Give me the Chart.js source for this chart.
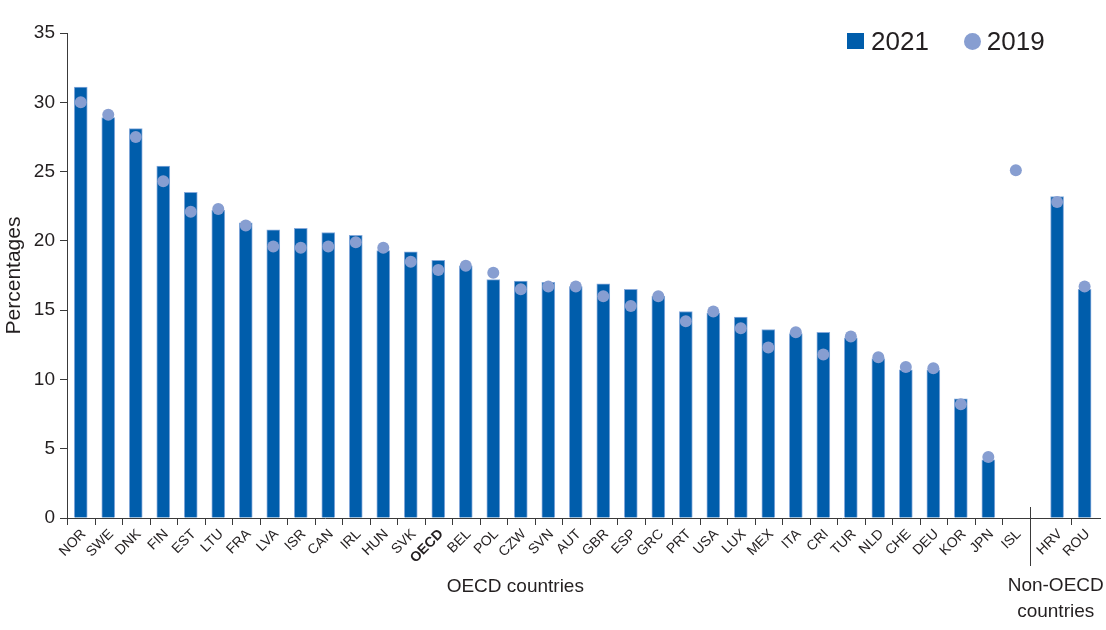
<!DOCTYPE html>
<html>
<head>
<meta charset="utf-8">
<script src="https://cdn.jsdelivr.net/npm/chart.js@4"></script>
<style>
  body { margin: 0; background: #fff; }
  #wrap { position: relative; width: 1106px; height: 630px; }
  #legend {
    position: absolute; left: 847px; top: 28px; height: 26px;
    display: flex; align-items: center;
    font-family: 'Liberation Sans', Arial, sans-serif; font-size: 26px; color: #231f20;
  }
  #legend .sq { width: 17px; height: 16px; background: #005dab; margin-right: 7px; }
  #legend .dot { width: 17px; height: 17px; border-radius: 50%; background: #879ed1; margin: 0 6px 0 35px; }
</style>
</head>
<body>
<div id="wrap">
  <canvas id="chart"></canvas>
  <div id="legend"><span class="sq"></span><span>2021</span><span class="dot"></span><span>2019</span></div>
</div>
<script>
const oecdCountries = ['NOR', 'SWE', 'DNK', 'FIN', 'EST', 'LTU', 'FRA', 'LVA', 'ISR', 'CAN', 'IRL', 'HUN', 'SVK', 'OECD',
    'BEL', 'POL', 'CZW', 'SVN', 'AUT', 'GBR', 'ESP', 'GRC', 'PRT', 'USA', 'LUX', 'MEX', 'ITA', 'CRI', 'TUR', 'NLD',
    'CHE', 'DEU', 'KOR', 'JPN', 'ISL'];
const nonOecdCountries = ['HRV', 'ROU'];

const values2021 = [31.1, 28.9, 28.1, 25.4, 23.5, 22.2, 21.3, 20.8, 20.9, 20.6, 20.4, 19.3, 19.2, 18.6,
    18.2, 17.2, 17.1, 17.0, 16.7, 16.9, 16.5, 16.0, 14.9, 14.8, 14.5, 13.6, 13.3, 13.4, 13.0, 11.5,
    10.7, 10.7, 8.6, 4.2, null,
    23.2, 16.5];
const values2019 = [30.0, 29.1, 27.5, 24.3, 22.1, 22.3, 21.1, 19.6, 19.5, 19.6, 19.9, 19.5, 18.5, 17.9,
    18.2, 17.7, 16.5, 16.7, 16.7, 16.0, 15.3, 16.0, 14.2, 14.9, 13.7, 12.3, 13.4, 11.8, 13.1, 11.6,
    10.9, 10.8, 8.2, 4.4, 25.1,
    22.8, 16.7];

const yTicks = [0, 5, 10, 15, 20, 25, 30, 35];
const groupTitles = ['OECD countries', ['Non-OECD', 'countries']];

// half a slot of space between the two country groups
const groupGap = 0.5;
const countries = oecdCountries.concat(nonOecdCountries);
const positions = countries.map((c, i) => i + (i >= oecdCountries.length ? groupGap : 0));

const barColor = '#005dab';
const dotColor = '#879ed1';
const axisColor = '#3a3a3a';
const textColor = '#231f20';
const fontFamily = "'Liberation Sans', Arial, sans-serif";

function isOecd(i) {
    return i < oecdCountries.length;
}

const groupMarks = {
    id: 'groupMarks',
    afterDraw(chart) {
        const ctx = chart.ctx;
        const x = chart.scales.x;
        const base = chart.chartArea.bottom;
        ctx.save();
        ctx.strokeStyle = axisColor;
        ctx.lineWidth = 1;
        ctx.beginPath();
        positions.forEach(function(p, i) {
            if (i > 0 && isOecd(i) !== isOecd(i - 1)) return;
            const v = i === 0 ? p - 0.5 : (positions[i - 1] + p) / 2;
            const px = Math.round(x.getPixelForValue(v)) + 0.5;
            ctx.moveTo(px, base);
            ctx.lineTo(px, base + 7);
        });
        // divider between the groups
        const dx = Math.round(x.getPixelForValue(positions[oecdCountries.length - 1] + 0.5)) + 0.5;
        ctx.moveTo(dx, base - 11);
        ctx.lineTo(dx, base + 48);
        ctx.stroke();

        ctx.fillStyle = textColor;
        ctx.font = '19px ' + fontFamily;
        ctx.textAlign = 'center';
        ctx.textBaseline = 'middle';
        ctx.fillText(groupTitles[0], x.getPixelForValue(15.8), base + 69);
        const nx = x.getPixelForValue(positions[oecdCountries.length] - 0.05);
        ctx.fillText(groupTitles[1][0], nx, base + 68);
        ctx.fillText(groupTitles[1][1], nx, base + 94);
        ctx.restore();
    }
};

const ctx = document.getElementById('chart').getContext('2d');
const chart = new Chart(ctx, {
    type: 'bar',
    data: {
        datasets: [{
            type: 'line',
            label: '2019',
            data: positions.map((p, i) => ({ x: p, y: values2019[i] })),
            showLine: false,
            pointRadius: 6,
            pointBorderWidth: 0,
            pointBackgroundColor: dotColor,
            pointBorderColor: dotColor,
            order: 1
        }, {
            label: '2021',
            data: positions.map((p, i) => ({ x: p, y: values2021[i] })),
            backgroundColor: barColor,
            borderColor: '#86aadb',
            borderWidth: { top: 1, left: 1, right: 1, bottom: 0 },
            barThickness: 13,
            order: 2
        }]
    },
    options: {
        responsive: true,
        maintainAspectRatio: false,
        animation: false,
        layout: { padding: { top: 33, right: 2, left: 0, bottom: 0 } },
        plugins: {
            legend: { display: false },
            tooltip: { enabled: false }
        },
        scales: {
            x: {
                type: 'linear',
                offset: false,
                min: -0.5,
                max: 37.06,
                afterBuildTicks: function(scale) {
                    scale.ticks = positions.map(p => ({ value: p }));
                },
                afterFit: function(scale) {
                    scale.height = 112;
                },
                grid: { display: false },
                border: { display: true, color: axisColor, width: 1 },
                ticks: {
                    autoSkip: false,
                    minRotation: 45,
                    maxRotation: 45,
                    padding: 0,
                    labelOffset: 3,
                    color: textColor,
                    font: function(c) {
                        return {
                            family: fontFamily,
                            size: 14,
                            weight: countries[c.index] === 'OECD' ? 'bold' : 'normal'
                        };
                    },
                    callback: function(value, index) {
                        return countries[index];
                    }
                }
            },
            y: {
                min: 0,
                max: 35,
                afterBuildTicks: function(scale) {
                    scale.ticks = yTicks.map(v => ({ value: v }));
                },
                afterFit: function(scale) {
                    scale.width = 67;
                },
                grid: { drawOnChartArea: false, drawTicks: true, tickLength: 7, color: axisColor },
                border: { display: true, color: axisColor, width: 1 },
                ticks: {
                    padding: 5,
                    color: textColor,
                    font: { family: fontFamily, size: 19 }
                },
                title: {
                    display: true,
                    text: 'Percentages',
                    color: textColor,
                    font: { family: fontFamily, size: 21 },
                    padding: { top: 2, bottom: 0 }
                }
            }
        }
    },
    plugins: [groupMarks]
});
</script>
</body>
</html>
